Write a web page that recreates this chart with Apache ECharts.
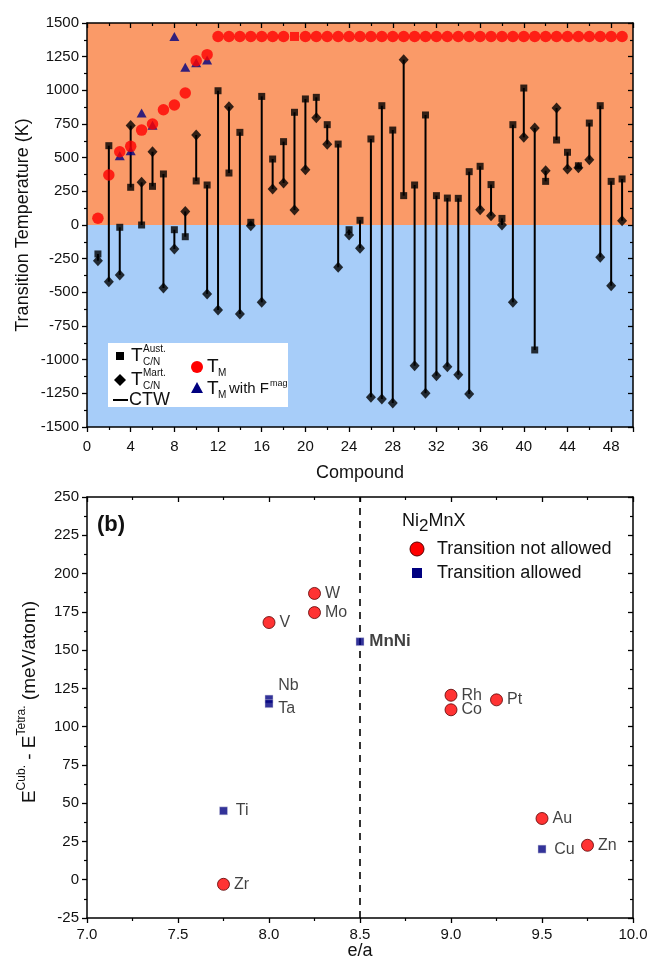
<!DOCTYPE html>
<html><head><meta charset="utf-8">
<script src="https://cdn.jsdelivr.net/npm/echarts@6/dist/echarts.min.js"></script>
<style>html,body{margin:0;padding:0;background:#fff}#c{width:654px;height:957px}</style>
</head><body><div id="c"></div>
<script>
// ---------- Panel (a) data ----------
const compounds = [1,2,3,4,5,6,7,8,9,10,11,12,13,14,15,16,17,18,19,20,21,22,23,24,25,26,27,28,29,30,31,32,33,34,35,36,37,38,39,40,41,42,43,44,45,46,47,48,49];
const tAust = [-215,589,-17,280,0,287,379,-35,-87,327,297,997,386,688,20,955,490,619,837,936,948,745,601,-35,35,639,886,705,218,297,817,218,200,198,396,436,300,49,745,1017,-928,324,631,540,440,757,886,324,342];
const tMart = [-265,-421,-371,738,317,544,-468,-178,101,668,-512,-631,879,-661,-5,-574,267,312,111,411,797,599,-314,-75,-173,-1280,-1292,-1322,1228,-1045,-1250,-1119,-1052,-1112,-1255,114,69,0,-574,651,720,403,869,416,425,485,-240,-451,32];
const tM = [50,371,544,584,705,750,856,891,980,1220,1265,1400,1400,1400,1400,1400,1400,1400,null,1400,1400,1400,1400,1400,1400,1400,1400,1400,1400,1400,1400,1400,1400,1400,1400,1400,1400,1400,1400,1400,1400,1400,1400,1400,1400,1400,1400,1400,1400];
const tMSquareCompounds = [19];
const tMSquareValues = [1400];
const tMagCompounds = [3,4,5,6,8,9,10,11];
const tMagValues = [515,552,832,740,1400,1171,1205,1225];

// ---------- Panel (b) data ----------
const elemNames   = ['Ti','Zr','V','Nb','Ta','W','Mo','MnNi','Rh','Co','Pt','Au','Cu','Zn'];
const elemEA      = [7.75,7.75,8.0,8.0,8.0,8.25,8.25,8.5,9.0,9.0,9.25,9.5,9.5,9.75];
const elemDE      = [45,-3,168,118,115,187,174.5,155.5,120.5,111,117.5,40,20,22.5];
const elemAllowed = [true,false,false,true,true,false,false,true,false,false,false,false,true,false];

const FONT = 'Liberation Sans, Arial, sans-serif';
const labelTweaks = {
  Nb: {offset:[0,-13]},
  Ta: {offset:[0,5]},
  MnNi: {fontWeight:'bold', fontSize:17},
  Ti: {distance:8},
  Cu: {distance:8}
};

const chart = echarts.init(document.getElementById('c'), null, {renderer:'canvas'});

const axisLineStyle = {color:'#000', width:1.5};
function mainAxis(extra){
  return Object.assign({
    type:'value', splitLine:{show:false},
    axisLine:{show:true, onZero:false, lineStyle:axisLineStyle},
    axisTick:{show:true, inside:false, length:5, lineStyle:{color:'#000', width:1.3}},
    minorTick:{show:true, splitNumber:2, length:3, lineStyle:{color:'#000', width:1.2}},
    axisLabel:{color:'#111', fontSize:15, fontFamily:FONT, margin:8, formatter:v=>String(v)}
  }, extra);
}
function mirrorAxis(extra){
  return Object.assign({
    type:'value', splitLine:{show:false},
    axisLine:{show:true, onZero:false, lineStyle:axisLineStyle},
    axisTick:{show:true, inside:true, length:5, lineStyle:{color:'#000', width:1.3}},
    minorTick:{show:true, splitNumber:2, length:3, lineStyle:{color:'#000', width:1.2}},
    axisLabel:{show:false}
  }, extra);
}

const pairs = compounds.map((c,i)=>[c, tAust[i], tMart[i]]);

function elemData(allowed){
  const out = [];
  elemNames.forEach((n,i)=>{
    if (elemAllowed[i] === allowed){
      const item = {name:n, value:[elemEA[i], elemDE[i]]};
      if (labelTweaks[n]) item.label = labelTweaks[n];
      out.push(item);
    }
  });
  return out;
}

const option = {
  animation:false,
  backgroundColor:'#fff',
  grid:[
    {left:87, top:23, width:546, height:404},
    {left:87, top:497, width:546, height:421}
  ],
  xAxis:[
    mainAxis({gridIndex:0, min:0, max:50, interval:4, axisLabel:{color:'#111', fontSize:15, fontFamily:FONT, margin:12, showMaxLabel:false, formatter:v=>String(v)}}),
    mirrorAxis({gridIndex:0, position:'top', min:0, max:50, interval:4}),
    mainAxis({gridIndex:1, min:7, max:10, interval:0.5, axisLabel:{color:'#111', fontSize:15, fontFamily:FONT, margin:9, formatter:v=>v.toFixed(1)}}),
    mirrorAxis({gridIndex:1, position:'top', min:7, max:10, interval:0.5})
  ],
  yAxis:[
    mainAxis({gridIndex:0, min:-1500, max:1500, interval:250}),
    mirrorAxis({gridIndex:0, position:'right', min:-1500, max:1500, interval:250}),
    mainAxis({gridIndex:1, min:-25, max:250, interval:25}),
    mirrorAxis({gridIndex:1, position:'right', min:-25, max:250, interval:25})
  ],
  series:[
    { type:'scatter', xAxisIndex:0, yAxisIndex:0, data:[[0,0]], symbolSize:0, silent:true, z:0,
      markArea:{silent:true, z:0, data:[
        [{yAxis:0, itemStyle:{color:'#FA9A68'}},{yAxis:1500}],
        [{yAxis:-1500, itemStyle:{color:'#A7CDF9'}},{yAxis:0}]
      ]}
    },
    { type:'custom', xAxisIndex:0, yAxisIndex:0, z:2, data:pairs, encode:{x:0, y:[1,2]},
      renderItem:(params, api)=>{
        const p1 = api.coord([api.value(0), api.value(1)]);
        const p2 = api.coord([api.value(0), api.value(2)]);
        return {type:'line', shape:{x1:p1[0], y1:p1[1], x2:p2[0], y2:p2[1]}, style:{stroke:'#000', lineWidth:2}};
      }
    },
    { type:'scatter', name:'Aust', xAxisIndex:0, yAxisIndex:0, z:3, symbol:'rect', symbolSize:7,
      itemStyle:{color:'#000'}, data:compounds.map((c,i)=>[c, tAust[i]]) },
    { type:'scatter', name:'Mart', xAxisIndex:0, yAxisIndex:0, z:3, symbol:'diamond', symbolSize:[10,11],
      itemStyle:{color:'#000'}, data:compounds.map((c,i)=>[c, tMart[i]]) },
    { type:'scatter', name:'TMmag', xAxisIndex:0, yAxisIndex:0, z:4, symbol:'triangle', symbolSize:[10,9],
      itemStyle:{color:'#00007F'}, data:tMagCompounds.map((c,i)=>[c, tMagValues[i]]) },
    { type:'scatter', name:'TM', xAxisIndex:0, yAxisIndex:0, z:5, symbol:'circle', symbolSize:11.5,
      itemStyle:{color:'#FF0000'}, data:compounds.map((c,i)=>[c, tM[i]]).filter(d=>d[1]!==null) },
    { type:'scatter', name:'TMsq', xAxisIndex:0, yAxisIndex:0, z:5, symbol:'rect', symbolSize:9,
      itemStyle:{color:'#FF0000'}, data:tMSquareCompounds.map((c,i)=>[c, tMSquareValues[i]]) },

    { type:'scatter', name:'Transition not allowed', xAxisIndex:2, yAxisIndex:2, z:4, symbol:'circle', symbolSize:12,
      itemStyle:{color:'#FF0000', borderColor:'#5a0000', borderWidth:1},
      label:{show:true, position:'right', distance:4, formatter:p=>p.name, color:'#111', fontSize:16, fontFamily:FONT},
      data:elemData(false),
      markLine:{silent:true, symbol:'none', label:{show:false},
        lineStyle:{color:'#000', type:[7,6], width:1.6},
        data:[{xAxis:8.5}]}
    },
    { type:'scatter', name:'Transition allowed', xAxisIndex:2, yAxisIndex:2, z:5, symbol:'rect', symbolSize:8,
      itemStyle:{color:'#000080', borderColor:'#ccd', borderWidth:0.6},
      label:{show:true, position:'right', distance:5, formatter:p=>p.name, color:'#111', fontSize:16, fontFamily:FONT},
      data:elemData(true) }
  ],
  graphic:[
    // axis titles
    {type:'text', x:23, y:225, rotation:Math.PI/2, style:{text:'Transition Temperature (K)', font:'18px '+FONT, fill:'#111', align:'center', verticalAlign:'middle'}},
    {type:'text', x:360, y:473, style:{text:'Compound', font:'18px '+FONT, fill:'#111', align:'center', verticalAlign:'middle'}},
    {type:'text', x:360, y:951, style:{text:'e/a', font:'18px '+FONT, fill:'#111', align:'center', verticalAlign:'middle'}},
    {type:'text', x:30, y:702, rotation:Math.PI/2, style:{
      text:'{b|E}{s|Cub.}{b| - E}{s|Tetra.}{b| (meV/atom)}',
      align:'center', verticalAlign:'middle',
      rich:{ b:{fontSize:19, fontFamily:FONT, fill:'#111', lineHeight:28, verticalAlign:'middle'},
             s:{fontSize:12, fontFamily:FONT, fill:'#111', verticalAlign:'top', lineHeight:14} }
    }},
    // panel letters
    {type:'text', x:98, y:53, style:{text:'(a)', font:'bold 22px '+FONT, fill:'#111', verticalAlign:'middle'}},
    {type:'text', x:97, y:525, style:{text:'(b)', font:'bold 22px '+FONT, fill:'#111', verticalAlign:'middle'}},
    // FM / AFM
    {type:'text', x:566, y:210, style:{text:'FM', font:'17px '+FONT, fill:'#222', align:'center', verticalAlign:'middle'}},
    {type:'text', x:565, y:241, style:{text:'AFM', font:'17px '+FONT, fill:'#222', align:'center', verticalAlign:'middle'}},
    // legend (a)
    {type:'rect', shape:{x:108, y:343, width:180, height:64}, style:{fill:'#fff'}, z:10},
    {type:'rect', shape:{x:116, y:352, width:8, height:8}, style:{fill:'#000'}, z:11},
    {type:'text', x:131, y:356, style:{text:'T', font:'19px '+FONT, fill:'#111', verticalAlign:'middle'}, z:11},
    {type:'text', x:143, y:349, style:{text:'Aust.', font:'10px '+FONT, fill:'#111', verticalAlign:'middle'}, z:11},
    {type:'text', x:143, y:362, style:{text:'C/N', font:'10px '+FONT, fill:'#111', verticalAlign:'middle'}, z:11},
    {type:'polygon', shape:{points:[[120,374],[126,380],[120,386],[114,380]]}, style:{fill:'#000'}, z:11},
    {type:'text', x:131, y:380, style:{text:'T', font:'19px '+FONT, fill:'#111', verticalAlign:'middle'}, z:11},
    {type:'text', x:143, y:373, style:{text:'Mart.', font:'10px '+FONT, fill:'#111', verticalAlign:'middle'}, z:11},
    {type:'text', x:143, y:386, style:{text:'C/N', font:'10px '+FONT, fill:'#111', verticalAlign:'middle'}, z:11},
    {type:'line', shape:{x1:113, y1:400, x2:128, y2:400}, style:{stroke:'#000', lineWidth:2}, z:11},
    {type:'text', x:129, y:400, style:{text:'CTW', font:'18px '+FONT, fill:'#111', verticalAlign:'middle'}, z:11},
    {type:'circle', shape:{cx:197, cy:367, r:6}, style:{fill:'#FF0000'}, z:11},
    {type:'text', x:207, y:367, style:{text:'T', font:'19px '+FONT, fill:'#111', verticalAlign:'middle'}, z:11},
    {type:'text', x:218, y:373, style:{text:'M', font:'10px '+FONT, fill:'#111', verticalAlign:'middle'}, z:11},
    {type:'polygon', shape:{points:[[197,382],[203,393],[191,393]]}, style:{fill:'#00007F'}, z:11},
    {type:'text', x:207, y:389, style:{text:'T', font:'19px '+FONT, fill:'#111', verticalAlign:'middle'}, z:11},
    {type:'text', x:218, y:395, style:{text:'M', font:'10px '+FONT, fill:'#111', verticalAlign:'middle'}, z:11},
    {type:'text', x:229, y:389, style:{text:'with F', font:'15px '+FONT, fill:'#111', verticalAlign:'middle'}, z:11},
    {type:'text', x:270, y:384, style:{text:'mag', font:'9px '+FONT, fill:'#111', verticalAlign:'middle'}, z:11},
    // legend (b)
    {type:'text', x:402, y:521, style:{text:'{b|Ni}{d|2}{b|MnX}', rich:{b:{fontSize:18, fontFamily:FONT, fill:'#111', lineHeight:22, verticalAlign:'middle'}, d:{fontSize:17, fontFamily:FONT, fill:'#111', verticalAlign:'bottom', lineHeight:16, padding:[0,0,-3,0]}}, verticalAlign:'middle'}},
    {type:'circle', shape:{cx:417, cy:549, r:7}, style:{fill:'#FF0000', stroke:'#5a0000', lineWidth:1}},
    {type:'text', x:437, y:549, style:{text:'Transition not allowed', font:'18px '+FONT, fill:'#111', verticalAlign:'middle'}},
    {type:'rect', shape:{x:412, y:568, width:10, height:10}, style:{fill:'#000080'}},
    {type:'text', x:437, y:573, style:{text:'Transition allowed', font:'18px '+FONT, fill:'#111', verticalAlign:'middle'}}
  ]
};
chart.setOption(option);
</script>
</body></html>
